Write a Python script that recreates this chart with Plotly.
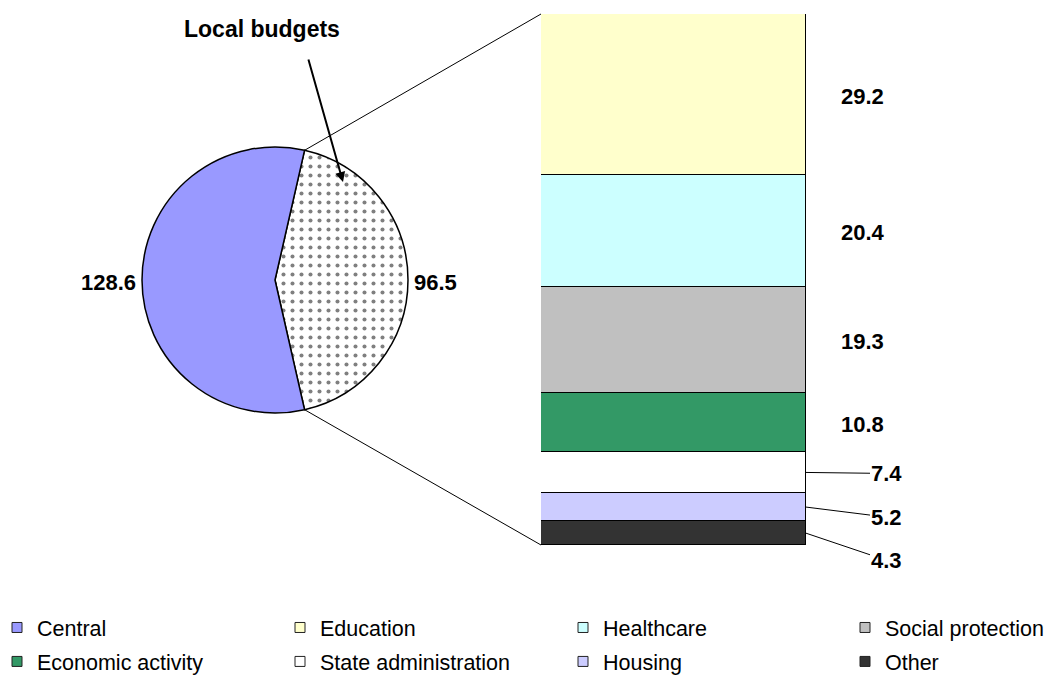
import math
import plotly.graph_objects as go

# ---- data ----
pie_labels = ["Local budgets", "Central"]
pie_values = [96.5, 128.6]

bar_labels = ["Education", "Healthcare", "Social protection", "Economic activity",
              "State administration", "Housing", "Other"]
bar_values = [29.2, 20.4, 19.3, 10.8, 7.4, 5.2, 4.3]
bar_colors = ["#FFFFCC", "#CCFFFF", "#C0C0C0", "#339966", "#FFFFFF", "#CCCCFF", "#333333"]

legend_labels = ["Central", "Education", "Healthcare", "Social protection",
                 "Economic activity", "State administration", "Housing", "Other"]
legend_colors = ["#9999FF", "#FFFFCC", "#CCFFFF", "#C0C0C0",
                 "#339966", "#FFFFFF", "#CCCCFF", "#333333"]

# ---- layout geometry (pixels) ----
W, H = 1052, 675
FONT = "Arial, Liberation Sans, sans-serif"
pie_cx, pie_cy, pie_r = 275, 280, 133
bar_x0, bar_x1, bar_top, bar_bot = 541, 806, 14, 545
LABEL_SIZE = 22


def px(x):
    return x / W


def py(y):
    return 1 - y / H


fig = go.Figure()

# pie: local slice centred on 3 o'clock, clockwise
total = sum(pie_values)
local_span = 360 * pie_values[0] / total
rotation = 90 - local_span / 2
fig.add_trace(go.Pie(
    labels=pie_labels, values=pie_values, sort=False, direction="clockwise",
    rotation=rotation, textinfo="none", hoverinfo="label+value", showlegend=False,
    domain=dict(x=[px(pie_cx - pie_r), px(pie_cx + pie_r)],
                y=[py(pie_cy + pie_r), py(pie_cy - pie_r)]),
    marker=dict(colors=["#FFFFFF", "#9999FF"],
                line=dict(color="black", width=1.5),
                pattern=dict(shape=[".", ""], fgcolor="black", bgcolor="white",
                             size=9, solidity=0.16, fillmode="overlay")),
))

# stacked bar: breakdown of local budgets (bottom segment drawn first)
for lab, val, col in reversed(list(zip(bar_labels, bar_values, bar_colors))):
    fig.add_trace(go.Bar(
        x=[0], y=[val], width=1, name=lab, showlegend=False,
        marker=dict(color=col, line=dict(color="black", width=1.5)),
        xaxis="x", yaxis="y",
    ))

bar_total = sum(bar_values)

# legend entries, four columns of two rows
col_px = [14, 297, 580, 862]
for i, (lab, col) in enumerate(zip(legend_labels, legend_colors)):
    c = i % 4
    fig.add_trace(go.Scatter(
        x=[None], y=[None], mode="markers", name=lab,
        legend="legend" if c == 0 else f"legend{c + 1}",
        legendgroup=lab,
        marker=dict(symbol="square", size=10, color=col,
                    line=dict(color="#222222", width=1)),
    ))

legend_common = dict(orientation="v", xanchor="left", yanchor="top",
                     font=dict(family=FONT, size=21.5, color="black"),
                     bgcolor="rgba(0,0,0,0)", borderwidth=0, tracegroupgap=3,
                     itemwidth=30)
legends = {}
for c, xc in enumerate(col_px):
    key = "legend" if c == 0 else f"legend{c + 1}"
    legends[key] = dict(legend_common, x=px(xc - 17), y=py(607))

annotations = []

# value labels on the pie, placed just outside each slice
angle = rotation
for lab, val in zip(pie_labels, pie_values):
    span = 360 * val / total
    mid = math.radians(angle + span / 2)
    angle += span
    lx = pie_cx + (pie_r + 5) * math.sin(mid)
    ly = pie_cy - (pie_r + 5) * math.cos(mid)
    annotations.append(dict(
        x=px(lx), y=py(ly + 2), xref="paper", yref="paper", showarrow=False,
        text=f"{val}", xanchor="left" if lx > pie_cx else "right", yanchor="middle",
        font=dict(family=FONT, size=LABEL_SIZE, color="black"), borderpad=0,
    ))

# value labels beside the bar segments
small_offsets = {7.4: 1, 5.2: 10, 4.3: 27}
cum = 0
for lab, val in reversed(list(zip(bar_labels, bar_values))):
    mid = cum + val / 2
    cum += val
    if val in small_offsets:
        annotations.append(dict(
            x=0.5, y=mid, xref="x", yref="y", text=f"{val}",
            showarrow=True, arrowhead=0, arrowwidth=1, arrowcolor="black",
            ax=80, ay=small_offsets[val], standoff=0, borderpad=0,
            font=dict(family=FONT, size=LABEL_SIZE, color="black"),
        ))
    else:
        annotations.append(dict(
            x=0.5, y=mid, xref="x", yref="y", text=f"{val}", showarrow=False,
            xanchor="left", yanchor="middle", xshift=33, yshift=-2,
            font=dict(family=FONT, size=LABEL_SIZE, color="black"),
        ))

# "Local budgets" callout
annotations.append(dict(
    x=px(262), y=py(29), xref="paper", yref="paper", text="<b>Local budgets</b>",
    xanchor="center", yanchor="middle",
    showarrow=False, font=dict(family=FONT, size=23, color="black"),
))
annotations.append(dict(
    x=px(343), y=py(182), xref="paper", yref="paper", text="",
    showarrow=True, arrowhead=2, arrowsize=1, arrowwidth=2, arrowcolor="black",
    ax=-35, ay=-124, standoff=0,
))
for a in annotations:
    if a.get("text") and not a["text"].startswith("<b>"):
        a["text"] = f"<b>{a['text']}</b>"

# connector lines from the local slice edges to the bar corners
start = math.radians(rotation)
end = math.radians(rotation + local_span)
top_pt = (pie_cx + pie_r * math.sin(start), pie_cy - pie_r * math.cos(start))
bot_pt = (pie_cx + pie_r * math.sin(end), pie_cy - pie_r * math.cos(end))
shapes = [
    dict(type="line", xref="paper", yref="paper",
         x0=px(top_pt[0]), y0=py(top_pt[1]), x1=px(bar_x0), y1=py(bar_top),
         line=dict(color="black", width=1)),
    dict(type="line", xref="paper", yref="paper",
         x0=px(bot_pt[0]), y0=py(bot_pt[1]), x1=px(bar_x0), y1=py(bar_bot),
         line=dict(color="black", width=1)),
]

fig.update_layout(
    width=W, height=H, margin=dict(l=0, r=0, t=0, b=0, autoexpand=False),
    paper_bgcolor="white", plot_bgcolor="white",
    barmode="stack", bargap=0,
    xaxis=dict(domain=[px(bar_x0), px(bar_x1)], range=[-0.5, 0.5], visible=False,
               fixedrange=True),
    yaxis=dict(domain=[py(bar_bot), py(bar_top)], range=[0, bar_total], visible=False,
               fixedrange=True),
    annotations=annotations, shapes=shapes,
    font=dict(family=FONT, color="black"),
    **legends,
)

fig.write_html("out.html")
